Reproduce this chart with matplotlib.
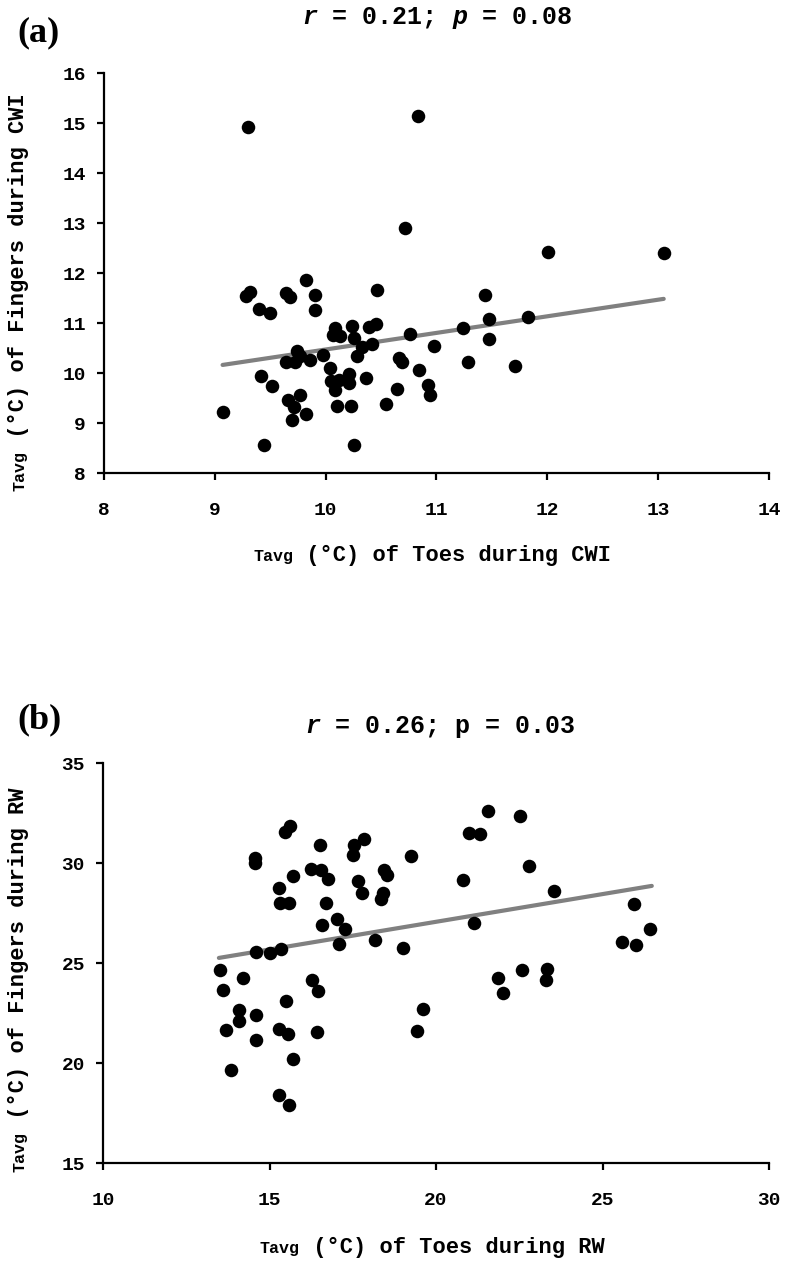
import matplotlib
matplotlib.use("Agg")
import matplotlib.pyplot as plt

# ---------------- data ----------------
toes_cwi = [9.30, 10.83, 10.72, 9.82, 9.28, 9.32, 9.64, 9.68, 9.90, 10.46,
            9.40, 9.50, 9.90, 11.44, 11.47, 11.47, 11.24, 10.76, 10.98, 11.28,
            10.08, 10.07, 10.13, 10.24, 10.26, 10.39, 10.45, 10.42, 10.33, 10.28,
            9.98, 9.74, 9.77, 9.64, 9.72, 9.86, 10.04, 10.21, 10.05, 10.12,
            10.21, 10.08, 10.36, 10.66, 10.69, 10.84, 10.64, 10.54, 10.92, 10.94,
            9.42, 9.52, 9.66, 9.77, 9.71, 9.70, 9.82, 10.10, 10.23, 9.07,
            9.44, 10.26, 12.01, 13.05, 11.83, 11.71]
fingers_cwi = [14.93, 15.15, 12.91, 11.87, 11.55, 11.62, 11.61, 11.53, 11.57, 11.67,
               11.28, 11.21, 11.27, 11.56, 11.09, 10.68, 10.91, 10.79, 10.55, 10.21,
               10.90, 10.76, 10.74, 10.94, 10.71, 10.93, 10.98, 10.59, 10.53, 10.35,
               10.37, 10.44, 10.34, 10.21, 10.23, 10.26, 10.11, 9.99, 9.84, 9.86,
               9.81, 9.67, 9.91, 10.31, 10.21, 10.07, 9.69, 9.39, 9.76, 9.57,
               9.94, 9.75, 9.46, 9.56, 9.33, 9.07, 9.19, 9.34, 9.35, 9.22,
               8.57, 8.57, 12.43, 12.41, 11.13, 10.14]
trend_cwi = {"slope": 0.332, "intercept": 7.15, "x_from": 9.07, "x_to": 13.05}

toes_rw = [15.62, 15.47, 14.56, 14.56, 16.52, 17.54, 17.85, 17.52, 15.71, 16.24,
           16.55, 16.77, 18.44, 18.54, 17.65, 17.79, 18.40, 18.35, 15.29, 15.32,
           15.59, 16.70, 17.02, 17.27, 16.58, 17.09, 18.17, 14.59, 15.02, 15.34,
           13.51, 14.19, 13.61, 16.27, 16.45, 15.50, 14.08, 14.59, 14.08, 13.69,
           15.29, 15.55, 16.44, 14.59, 15.70, 13.83, 15.30, 15.58,
           21.55, 22.52, 20.98, 21.32, 19.24, 20.82, 22.80, 23.55, 25.96, 21.15,
           26.43, 25.60, 26.01, 19.02, 21.85, 22.00, 22.57, 23.32, 23.30, 19.60,
           19.42]
fingers_rw = [31.85, 31.55, 30.27, 30.00, 30.89, 30.89, 31.19, 30.42, 29.35, 29.71,
              29.64, 29.22, 29.67, 29.39, 29.09, 28.50, 28.50, 28.22, 28.77, 28.00,
              28.00, 28.00, 27.22, 26.72, 26.89, 25.94, 26.14, 25.55, 25.50, 25.72,
              24.64, 24.25, 23.64, 24.14, 23.60, 23.09, 22.64, 22.42, 22.09, 21.67,
              21.72, 21.47, 21.55, 21.17, 20.18, 19.63, 18.38, 17.89,
              32.58, 32.33, 31.50, 31.47, 30.37, 29.13, 29.83, 28.58, 27.97, 27.02,
              26.68, 26.05, 25.90, 25.77, 24.27, 23.50, 24.63, 24.72, 24.14, 22.69,
              21.60]
trend_rw = {"slope": 0.277, "intercept": 21.52, "x_from": 13.48, "x_to": 26.48}

xticks_a = [8, 9, 10, 11, 12, 13, 14]
yticks_a = [8, 9, 10, 11, 12, 13, 14, 15, 16]
xticks_b = [10, 15, 20, 25, 30]
yticks_b = [15, 20, 25, 30, 35]

# ---------------- figure ----------------
W, H, DPI = 786, 1262, 100
fig = plt.figure(figsize=(W / DPI, H / DPI), dpi=DPI)
MONO = "Liberation Mono"
TICK_FS = 14
LAB_FS = 15.8
SMALL_FS = 12
TITLE_FS = 18


def px_ax(left, top, right, bottom):
    return [left / W, 1 - bottom / H, (right - left) / W, (bottom - top) / H]


def style_axes(ax, xt, yt):
    for s in ("top", "right"):
        ax.spines[s].set_visible(False)
    for s in ("left", "bottom"):
        ax.spines[s].set_linewidth(1.6)
        ax.spines[s].set_color("black")
    ax.set_xticks(xt)
    ax.set_yticks(yt)
    ax.set_xlim(xt[0], xt[-1])
    ax.set_ylim(yt[0], yt[-1])
    ax.tick_params(direction="out", length=5, width=1.6, pad=8, labelsize=TICK_FS)
    for lab in ax.get_xticklabels() + ax.get_yticklabels():
        lab.set_fontfamily(MONO)
        lab.set_fontweight("bold")
    ax.tick_params(axis="x", pad=16)


renderer = fig.canvas.get_renderer()


def measure(txt, **kw):
    t = fig.text(0, 0, txt, **kw)
    w = t.get_window_extent(renderer).width
    t.remove()
    return w


def hpieces(cx_px, base_px, pieces):
    """Draw text pieces side by side, centred at cx_px, baseline at base_px (from top)."""
    widths = [measure(t, **p) for t, p in pieces]
    x = cx_px - sum(widths) / 2
    for (t, p), w in zip(pieces, widths):
        fig.text(x / W, 1 - base_px / H, t, ha="left", va="baseline", **p)
        x += w


def vpieces(base_x_px, cy_px, pieces):
    """Rotated (90 deg) text pieces reading bottom to top, centred at cy_px."""
    widths = [measure(t, **p) for t, p in pieces]
    y = cy_px + sum(widths) / 2
    for (t, p), w in zip(pieces, widths):
        fig.text(base_x_px / W, 1 - y / H, t, ha="left", va="baseline",
                 rotation=90, rotation_mode="anchor", **p)
        y -= w


small = dict(family=MONO, fontweight="bold", fontsize=SMALL_FS)
big = dict(family=MONO, fontweight="bold", fontsize=LAB_FS)
tit = dict(family=MONO, fontweight="bold", fontsize=TITLE_FS)
tit_it = dict(family=MONO, fontweight="bold", fontstyle="italic", fontsize=TITLE_FS)
panel = dict(family="Liberation Serif", fontweight="bold", fontsize=26)

# ---- panel (a)
ax1 = fig.add_axes(px_ax(104, 73, 769, 473))
style_axes(ax1, xticks_a, yticks_a)
ax1.scatter(toes_cwi, fingers_cwi, s=95, color="black", zorder=3, linewidths=0)
xs = [trend_cwi["x_from"], trend_cwi["x_to"]]
ax1.plot(xs, [trend_cwi["slope"] * v + trend_cwi["intercept"] for v in xs],
         color="#808080", lw=3, solid_capstyle="round", zorder=2)

# ---- panel (b)
ax2 = fig.add_axes(px_ax(103, 763, 769, 1163))
style_axes(ax2, xticks_b, yticks_b)
ax2.scatter(toes_rw, fingers_rw, s=95, color="black", zorder=3, linewidths=0)
xs = [trend_rw["x_from"], trend_rw["x_to"]]
ax2.plot(xs, [trend_rw["slope"] * v + trend_rw["intercept"] for v in xs],
         color="#808080", lw=3, solid_capstyle="round", zorder=2)

# ---- texts
fig.text(17 / W, 1 - 41 / H, "(a)", ha="left", va="baseline", **panel)
fig.text(17 / W, 1 - 728 / H, "(b)", ha="left", va="baseline", **panel)

hpieces(437, 24, [("r", tit_it), (" = 0.21; ", tit), ("p", tit_it), (" = 0.08", tit)])
hpieces(440, 733, [("r", tit_it), (" = 0.26; p = 0.03", tit)])

hpieces(432, 561, [("Tavg", small), (" (°C) of Toes during CWI", big)])
hpieces(432, 1253, [("Tavg", small), (" (°C) of Toes during RW", big)])

vpieces(24, 292, [("Tavg", small), (" (°C) of Fingers during CWI", big)])
vpieces(24, 980, [("Tavg", small), (" (°C) of Fingers during RW", big)])

fig.savefig("out.png", dpi=DPI)
